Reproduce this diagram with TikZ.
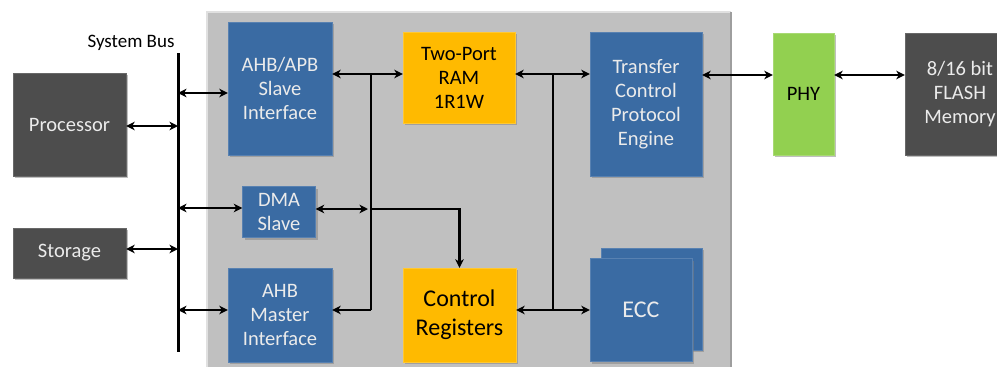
\documentclass[tikz,border=0pt]{standalone}
\usepackage{fontspec}
\setmainfont{Carlito}
\usetikzlibrary{arrows.meta, shadows}

\definecolor{boxgray}{HTML}{4D4D4D}
\definecolor{boxblue}{HTML}{3A6BA3}
\definecolor{boxorange}{HTML}{FFBA00}
\definecolor{boxgreen}{HTML}{92D050}
\definecolor{panelgray}{HTML}{C0C0C0}

\begin{document}
\begin{tikzpicture}[x=1pt, y=-1pt, >={Stealth[length=8.5pt,width=8.5pt,inset=2.5pt]},
    main/.style = {rectangle, inner sep=0pt, align=center, font=\fontsize{20.5}{24}\selectfont,
        drop shadow={shadow xshift=2pt, shadow yshift=-2pt, opacity=0.5}},
    dark/.style = {main, fill=boxgray, draw=boxgray!85!white, text=white!92!black},
    blue/.style = {main, fill=boxblue, draw=boxblue!85!white, text=white!92!black},
    orange/.style = {main, fill=boxorange, draw=boxorange!80!white, text=black},
    green/.style = {main, fill=boxgreen, draw=boxgreen!80!white, text=black},
    big/.style = {font=\fontsize{24}{29}\selectfont},
    link/.style = {line width=2.2pt},
    bus/.style = {line width=3pt}]
    \useasboundingbox (0,0) rectangle (997,367);

    % controller panel
    \fill[panelgray] (207,12) rectangle (731,372);
    \draw[white!88!black, line width=2pt] (207,372) -- (207,12) -- (731,12);
    \draw[white!62!black, line width=1.5pt] (731,12) -- (731,372);

    % system side
    \node[dark, minimum width=113pt, minimum height=103pt] (1) at (69.5,124.5) {Processor};
    \node[dark, minimum width=113pt, minimum height=50pt] (2) at (69.5,253) {Storage};
    \node (bus) at (131,43) {\fontsize{19}{22}\selectfont System Bus};
    \coordinate (bt) at (178,53);
    \coordinate (bb) at (178,352);

    % controller blocks
    \node[blue, minimum width=104pt, minimum height=133pt] (3) at (280,88.5) {AHB/APB\\Slave\\Interface};
    \node[blue, minimum width=73pt, minimum height=51pt] (4) at (279,212) {DMA\\Slave};
    \node[blue, minimum width=104pt, minimum height=94pt] (5) at (280,315) {AHB\\Master\\Interface};
    \node[orange, minimum width=112pt, minimum height=91pt] (6) at (459,77.5) {Two-Port\\RAM\\1R1W};
    \node[orange, big, minimum width=113pt, minimum height=94pt] (7) at (459.5,315) {Control\\Registers};
    \node[blue, minimum width=112pt, minimum height=144pt] (8) at (646,104) {Transfer\\Control\\Protocol\\Engine};
    \node[blue, minimum width=101pt, minimum height=102pt] (9) at (651.5,299) {};
    \node[blue, big, minimum width=102pt, minimum height=103pt] (10) at (641,310) {ECC};

    % flash side
    \node[green, minimum width=61pt, minimum height=122pt] (11) at (803.5,94) {PHY};
    \node[dark, minimum width=110pt, minimum height=122pt] (12) at (960,94) {8/16 bit\\FLASH\\Memory};

    % junctions
    \coordinate (b1) at (178,126);
    \coordinate (b2) at (178,249);
    \coordinate (b3) at (178,93);
    \coordinate (b4) at (178,208);
    \coordinate (b5) at (178,310);
    \coordinate (j1) at (371,74);
    \coordinate (j2) at (371,310);
    \coordinate (j3) at (371,209);
    \coordinate (j4) at (553,74);
    \coordinate (j5) at (553,310);
    \coordinate (j6) at (740,75);

    % system bus
    \draw[bus] (bt) -- (bb);
    \draw[link, <->] (b1 -| 1.east) -- (b1);
    \draw[link, <->] (b2 -| 2.east) -- (b2);
    \draw[link, <->] (b3) -- (b3 -| 3.west);
    \draw[link, <->] (b4) -- (b4 -| 4.west);
    \draw[link, <->] (b5) -- (b5 -| 5.west);

    % internal buses
    \draw[link, <->] (j1 -| 3.east) -- (j1 -| 6.west);
    \draw[link] (j1) -- (j2);
    \draw[link, ->] (j2) -- (j2 -| 5.east);
    \draw[link, <->] (j3 -| 4.east) -- ([xshift=-3pt]j3);
    \draw[link, ->] (j3) -| (7.north);
    \draw[link, <->] (j4 -| 6.east) -- (j4 -| 8.west);
    \draw[link] (j4) -- (j5);
    \draw[link, <->] (j5 -| 7.east) -- (j5 -| 10.west);

    % to the flash
    \draw[link, <->] (j6 -| 8.east) -- (j6 -| 11.west);
    \draw[link, <->] (j6 -| 11.east) -- (j6 -| 12.west);
\end{tikzpicture}
\end{document}
